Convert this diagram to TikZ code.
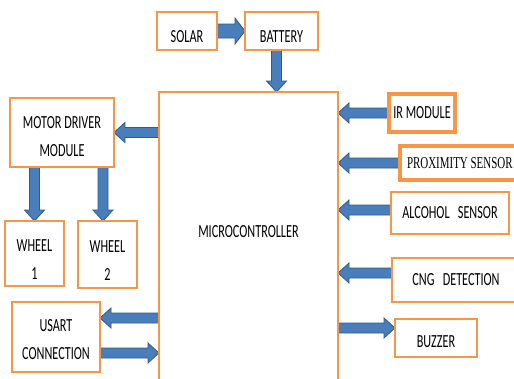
\documentclass[tikz,border=0pt]{standalone}
\usepackage{fontspec}
\setmainfont{Carlito}[FakeStretch=0.66]
\newfontfamily\serifsq{Liberation Serif}[FakeStretch=0.66]
\usetikzlibrary{calc,backgrounds}
\definecolor{boxorange}{HTML}{F79646}
\definecolor{arrfill}{HTML}{4A7EBB}
\definecolor{arrdraw}{HTML}{2F5A8A}
\def\bshw{5bp}\def\bhhw{10bp}\def\bhl{11bp}
\newcommand\blk[2]{%
 \coordinate (ba) at (#1);
 \coordinate (bb) at (#2);
 \coordinate (bn) at ($(bb)!\bhl!(ba)$);
 \draw[blkarrow] ($(ba)!\bshw!90:(bb)$) -- ($(bn)!\bshw!90:(bb)$) -- ($(bn)!\bhhw!90:(bb)$) -- (bb) -- ($(bn)!\bhhw!-90:(bb)$) -- ($(bn)!\bshw!-90:(bb)$) -- ($(ba)!\bshw!-90:(bb)$) -- cycle;}
\begin{document}
\begin{tikzpicture}[x=1bp,y=-1bp,line join=miter,
  box/.style={draw=boxorange, line width=2bp, inner sep=0pt, outer sep=0pt,
    font=\fontsize{18.5bp}{28bp}\selectfont},
  thickbox/.style={box, line width=4bp},
  lowtext/.style={text height=#1, text depth=0pt},
  blkarrow/.style={fill=arrfill, draw=arrdraw, line width=0.8bp}]
\useasboundingbox (0,0) rectangle (514,378);
\clip (0,0) rectangle (514,378);
% boxes
\node[box, minimum width=60bp, minimum height=38bp, lowtext=23bp] (solar) at (187,31) {SOLAR};
\node[box, minimum width=73bp, minimum height=38bp, lowtext=23bp] (battery) at (281.5,31) {BATTERY};
\node[box, minimum width=179bp, minimum height=300bp, text depth=22bp] (mc) at (248.5,242) {MICROCONTROLLER};
\node[box, minimum width=104bp, minimum height=69bp, align=center, lowtext=47bp] (md) at (62,132.5) {MOTOR DRIVER\\MODULE};
\node[box, minimum width=59bp, minimum height=65bp, align=center, lowtext=51bp] (w1) at (34.5,253.5) {WHEEL\\1};
\node[box, minimum width=59bp, minimum height=67bp, align=center, lowtext=51bp] (w2) at (107.5,254.5) {WHEEL\\2};
\node[box, minimum width=88bp, minimum height=70bp, align=center, lowtext=44bp] (usart) at (56,337) {USART\\CONNECTION};
\node[thickbox, minimum width=66bp, minimum height=38bp] (ir) at (422,113) {IR MODULE};
\node[thickbox, minimum height=34bp, inner xsep=7bp, anchor=west, font=\serifsq\fontsize{16.6bp}{20bp}\selectfont] (prox) at (400,163) {PROXIMITY SENSOR};
\node[box, minimum width=118bp, minimum height=42bp] (alc) at (450,213) {ALCOHOL\ \ \ SENSOR};
\node[box, minimum width=128bp, minimum height=44bp] (cng) at (456,280) {CNG\ \ \ DETECTION};
\node[box, minimum width=82bp, minimum height=38bp, lowtext=18bp] (buz) at (436,338) {BUZZER};
% block arrows
\begin{scope}[on background layer]
{\def\bshw{7bp}\def\bhhw{13bp}\def\bhl{10bp}\blk{solar.east}{battery.west}}
\coordinate (bt) at ([xshift=-5bp]battery.south);
\blk{bt}{bt |- mc.north}
\blk{mc.west |- md.east}{md.east}
\blk{md.south -| w1.north}{w1.north}
\coordinate (w2t) at ([xshift=-4.5bp]w2.north);
\blk{md.south -| w2t}{w2t}
\coordinate (u1) at ([yshift=19bp]usart.east);
\blk{mc.west |- u1}{u1}
\coordinate (u2) at ([yshift=-16bp]usart.east);
\blk{u2}{u2 -| mc.west}
\blk{ir.west}{ir.west -| mc.east}
\blk{prox.west}{prox.west -| mc.east}
\coordinate (a1) at ([yshift=3bp]alc.west);
\blk{a1}{a1 -| mc.east}
\coordinate (c1) at ([yshift=7bp]cng.west);
\blk{c1}{c1 -| mc.east}
\coordinate (b1) at ([yshift=10bp]buz.west);
\blk{b1 -| mc.east}{b1}
\end{scope}
\end{tikzpicture}
\end{document}
